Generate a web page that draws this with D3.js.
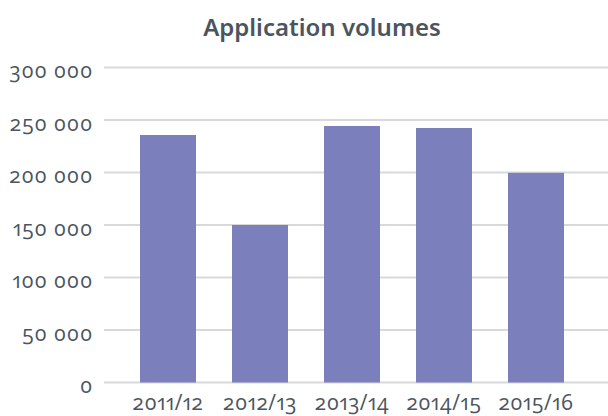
<!DOCTYPE html>
<html>
<head>
<meta charset="utf-8">
<script src="https://cdn.jsdelivr.net/npm/d3@7"></script>
<style>
  html, body { margin: 0; padding: 0; background: #fff; }
  svg { display: block; }
  .lbl { font-family: "Open Sans", sans-serif; font-feature-settings: "onum" 1, "pnum" 1; font-variant-numeric: oldstyle-nums proportional-nums; }
</style>
</head>
<body>
<svg id="chart" width="608" height="416"></svg>
<script>
const title = "Application volumes";
const categories = ["2011/12", "2012/13", "2013/14", "2014/15", "2015/16"];
const values = [235700, 150000, 244300, 242400, 199700];
const yTicks = [0, 50000, 100000, 150000, 200000, 250000, 300000];

const W = 608, H = 416;
const textColor = "#4a5560";
const barColor = "#7b7fbc";
const gridColor = "#d9d9d9";

const svg = d3.select("#chart");

const y = d3.scaleLinear().domain([0, 300000]).range([382.5, 67.5]);
const x = d3.scaleBand().domain(categories).range([122, 582])
  .paddingInner(36 / 92).paddingOuter(18 / 92);

const loc = d3.formatLocale({ decimal: ".", thousands: " ", grouping: [3], currency: ["", ""] });
const fmt = loc.format(",d");

svg.append("g").selectAll("line").data(yTicks).join("line")
  .attr("x1", 104).attr("x2", W)
  .attr("y1", d => y(d)).attr("y2", d => y(d))
  .attr("stroke", gridColor).attr("stroke-width", 2);

svg.append("g").selectAll("rect").data(values).join("rect")
  .attr("x", (d, i) => x(categories[i]))
  .attr("width", x.bandwidth())
  .attr("y", d => y(d))
  .attr("height", d => y(0) - y(d))
  .attr("fill", barColor);

const yAxis = d3.axisLeft(y).tickValues(yTicks).tickFormat(fmt).tickSize(0).tickPadding(0);
const gy = svg.append("g").attr("transform", "translate(93,0)").call(yAxis);
gy.attr("font-family", null);
gy.select(".domain").remove();
gy.selectAll(".tick text")
  .attr("class", "lbl")
  .attr("fill", textColor)
  .attr("font-size", 21)
  .attr("letter-spacing", 0.8)
  .attr("dy", null)
  .attr("y", 10)
  .attr("x", 0)
  .attr("text-anchor", "end");

const xAxis = d3.axisBottom(x).tickSize(0).tickPadding(0);
const gx = svg.append("g").attr("transform", "translate(0,410)").call(xAxis);
gx.attr("font-family", null);
gx.select(".domain").remove();
gx.selectAll(".tick text")
  .attr("class", "lbl")
  .attr("fill", textColor)
  .attr("font-size", 21)
  .attr("letter-spacing", 0.5)
  .attr("dy", null)
  .attr("y", 0);

svg.append("text")
  .attr("x", 322).attr("y", 36)
  .attr("text-anchor", "middle")
  .attr("font-family", "'Noto Sans', sans-serif")
  .attr("font-weight", 600)
  .attr("font-size", 24)
  .attr("fill", textColor)
  .text(title);
</script>
</body>
</html>
